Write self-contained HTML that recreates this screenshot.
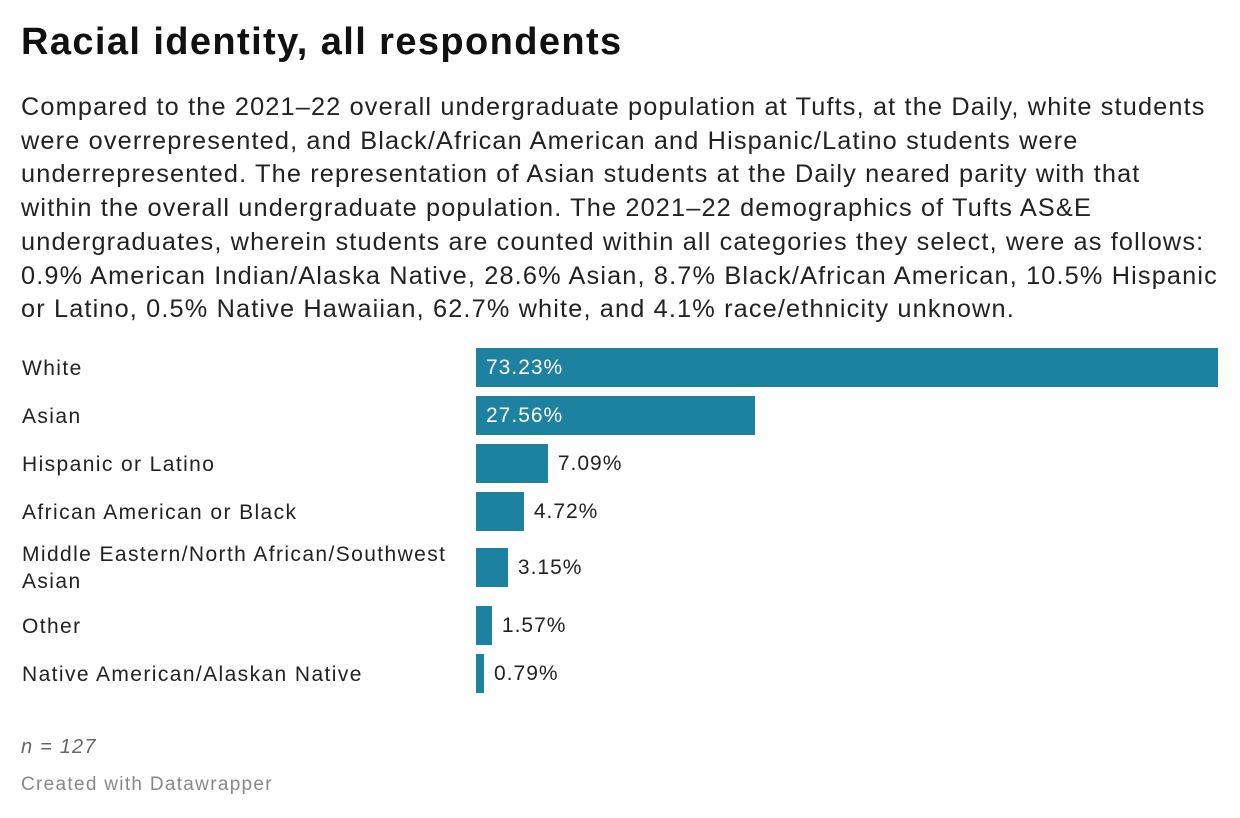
<!DOCTYPE html>
<html><head><meta charset="utf-8">
<style>
body{margin:0;background:#fff;font-family:"Liberation Sans",Arial,sans-serif;color:#181818;}
#wrap{position:relative;width:1240px;height:818px;overflow:hidden;}
h1{position:absolute;left:21px;top:21px;margin:0;font-size:38px;font-weight:bold;letter-spacing:1.4px;color:#111;white-space:nowrap;}
#desc{position:absolute;left:21px;top:91px;width:1230px;margin:0;font-size:25.3px;line-height:33.7px;color:#222;letter-spacing:1.15px;white-space:nowrap;}
.lab{position:absolute;left:22px;font-size:21px;line-height:27px;color:#222;letter-spacing:1.4px;}
.bar{position:absolute;background:#1d81a2;}
.val{position:absolute;font-size:21px;line-height:28px;letter-spacing:1px;}
#note{position:absolute;left:21px;top:736px;font-size:20px;font-style:italic;color:#666;letter-spacing:1.2px;}
#credit{position:absolute;left:21px;top:774px;font-size:19px;color:#888;letter-spacing:1.3px;}
</style></head><body>
<div id="wrap">
<h1>Racial identity, all respondents</h1>
<p id="desc">Compared to the 2021–22 overall undergraduate population at Tufts, at the Daily, white students<br>were overrepresented, and Black/African American and Hispanic/Latino students were<br>underrepresented. The representation of Asian students at the Daily neared parity with that<br>within the overall undergraduate population. The 2021–22 demographics of Tufts AS&amp;E<br>undergraduates, wherein students are counted within all categories they select, were as follows:<br>0.9% American Indian/Alaska Native, 28.6% Asian, 8.7% Black/African American, 10.5% Hispanic<br>or Latino, 0.5% Native Hawaiian, 62.7% white, and 4.1% race/ethnicity unknown.</p>
<div id="bars"></div>
<div id="note">n = 127</div>
<div id="credit">Created with Datawrapper</div>
</div>
<script>
const categories=["White","Asian","Hispanic or Latino","African American or Black","Middle Eastern/North African/Southwest Asian","Other","Native American/Alaskan Native"];
const values=[73.23,27.56,7.09,4.72,3.15,1.57,0.79];
const labels=["73.23%","27.56%","7.09%","4.72%","3.15%","1.57%","0.79%"];
const x0=476,x1=1218,maxV=Math.max(...values);
function xs(v){return v/maxV*(x1-x0);}
const rowTops=[348,396,444,492,548,606,654];
const host=document.getElementById('bars');
categories.forEach((c,i)=>{
  const top=rowTops[i],h=39,w=xs(values[i]);
  const l=document.createElement('div');l.className='lab';
  
  
  l.textContent=c;
  l.style.width='445px';
  if(c.length>40){l.style.top=(top-7)+'px';}else l.style.top=(top+7)+'px';
  host.appendChild(l);
  const b=document.createElement('div');b.className='bar';
  
  
  b.style.left=x0+'px';b.style.top=top+'px';b.style.width=w+'px';b.style.height=h+'px';
  host.appendChild(b);
  const v=document.createElement('div');v.className='val';
  
  
  v.textContent=labels[i];v.style.top=(top+6)+'px';
  if(w>120){v.style.left=(x0+10)+'px';v.style.color='#fff';}
  else{v.style.left=(x0+w+10)+'px';v.style.color='#222';}
  host.appendChild(v);
});
</script>
</body></html>
